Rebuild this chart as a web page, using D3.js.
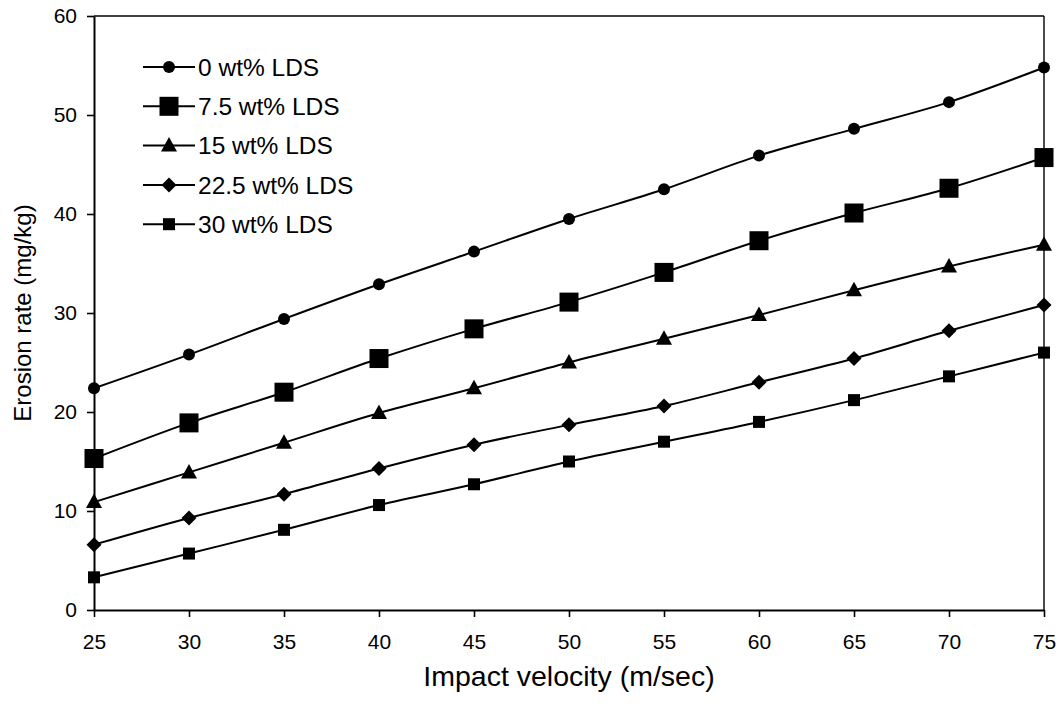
<!DOCTYPE html>
<html>
<head>
<meta charset="utf-8">
<script src="https://cdn.jsdelivr.net/npm/d3@7/dist/d3.min.js"></script>
<style>
  html, body { margin: 0; padding: 0; background: #fff; }
  svg { display: block; font-family: "Liberation Sans", Arial, sans-serif; }
</style>
</head>
<body>
<svg id="chart" width="1063" height="709"></svg>
<script>
// Impact velocity (m/sec)
const velocities = [25, 30, 35, 40, 45, 50, 55, 60, 65, 70, 75];

// Erosion rate (mg/kg) for each LDS content
const lds0   = [22.4, 25.8, 29.4, 32.9, 36.2, 39.5, 42.5, 45.9, 48.6, 51.3, 54.8];
const lds7_5 = [15.3, 18.9, 22.0, 25.4, 28.4, 31.1, 34.1, 37.3, 40.1, 42.6, 45.7];
const lds15  = [10.9, 13.9, 16.9, 19.9, 22.4, 25.0, 27.4, 29.8, 32.3, 34.7, 36.9];
const lds22_5 = [6.6, 9.3, 11.7, 14.3, 16.7, 18.7, 20.6, 23.0, 25.4, 28.2, 30.8];
const lds30  = [3.3, 5.7, 8.1, 10.6, 12.7, 15.0, 17.0, 19.0, 21.2, 23.6, 26.0];

const seriesNames = ["0 wt% LDS", "7.5 wt% LDS", "15 wt% LDS", "22.5 wt% LDS", "30 wt% LDS"];
const seriesValues = [lds0, lds7_5, lds15, lds22_5, lds30];
const seriesMarkers = ["circle", "bigSquare", "triangle", "diamond", "smallSquare"];

const xTicks = [25, 30, 35, 40, 45, 50, 55, 60, 65, 70, 75];
const yTicks = [0, 10, 20, 30, 40, 50, 60];

const svg = d3.select("#chart");
const plot = { left: 94, right: 1044, top: 16, bottom: 610 };

const x = d3.scaleLinear().domain([25, 75]).range([plot.left, plot.right]);
const y = d3.scaleLinear().domain([0, 60]).range([plot.bottom, plot.top]);

// frame: top and right edges
svg.append("line")
  .attr("x1", plot.left).attr("x2", plot.right)
  .attr("y1", plot.top).attr("y2", plot.top)
  .attr("stroke", "#000").attr("stroke-width", 1.6);
svg.append("line")
  .attr("x1", plot.right).attr("x2", plot.right)
  .attr("y1", plot.top).attr("y2", plot.bottom)
  .attr("stroke", "#000").attr("stroke-width", 1.4);

// axes
const xAxis = svg.append("g")
  .attr("transform", `translate(0,${plot.bottom})`)
  .call(d3.axisBottom(x).tickValues(xTicks).tickSize(7).tickPadding(17).tickSizeOuter(0));
const yAxis = svg.append("g")
  .attr("transform", `translate(${plot.left},0)`)
  .call(d3.axisLeft(y).tickValues(yTicks).tickSize(7).tickPadding(10).tickSizeOuter(0));

[xAxis, yAxis].forEach(g => {
  g.select(".domain").attr("stroke", "#000").attr("stroke-width", 2);
  g.selectAll(".tick line").attr("stroke", "#000").attr("stroke-width", 1.6);
  g.selectAll(".tick text")
    .attr("fill", "#000")
    .style("font-family", "'Liberation Sans', Arial, sans-serif")
    .style("font-size", "21px");
});

// axis titles
svg.append("text")
  .attr("x", (plot.left + plot.right) / 2)
  .attr("y", 686)
  .attr("text-anchor", "middle")
  .style("font-size", "28.5px")
  .text("Impact velocity (m/sec)");

svg.append("text")
  .attr("transform", `translate(31,${(plot.top + plot.bottom) / 2}) rotate(-90)`)
  .attr("text-anchor", "middle")
  .style("font-size", "24px")
  .text("Erosion rate (mg/kg)");

// marker drawing
function drawMarker(g, type) {
  switch (type) {
    case "circle":
      g.append("circle").attr("r", 6);
      break;
    case "bigSquare":
      g.append("rect").attr("x", -9.5).attr("y", -9.5).attr("width", 19).attr("height", 19);
      break;
    case "triangle":
      g.append("path").attr("d", "M0,-8.5L8,6L-8,6Z");
      break;
    case "diamond":
      g.append("path").attr("d", "M0,-7.5L7.5,0L0,7.5L-7.5,0Z");
      break;
    case "smallSquare":
      g.append("rect").attr("x", -6).attr("y", -6).attr("width", 12).attr("height", 12);
      break;
  }
}

const line = d3.line()
  .x(d => x(d.v))
  .y(d => y(d.e))
  .curve(d3.curveCardinal.tension(0));

seriesValues.forEach((vals, i) => {
  const pts = velocities.map((v, j) => ({ v, e: vals[j] }));
  svg.append("path")
    .datum(pts)
    .attr("d", line)
    .attr("fill", "none")
    .attr("stroke", "#000")
    .attr("stroke-width", 2);
  svg.append("g").selectAll("g")
    .data(pts)
    .join("g")
    .attr("transform", d => `translate(${x(d.v)},${y(d.e)})`)
    .attr("fill", "#000")
    .each(function () { drawMarker(d3.select(this), seriesMarkers[i]); });
});

// legend
const legend = svg.append("g");
seriesNames.forEach((name, i) => {
  const row = legend.append("g").attr("transform", `translate(143,${67 + i * 39.3})`);
  row.append("line").attr("x1", 0).attr("x2", 52).attr("y1", 0).attr("y2", 0)
    .attr("stroke", "#000").attr("stroke-width", 2);
  const m = row.append("g").attr("transform", "translate(26,0)").attr("fill", "#000");
  drawMarker(m, seriesMarkers[i]);
  row.append("text")
    .attr("x", 55).attr("y", 0).attr("dy", "0.36em")
    .style("font-size", "24.5px")
    .text(name);
});
</script>
</body>
</html>
